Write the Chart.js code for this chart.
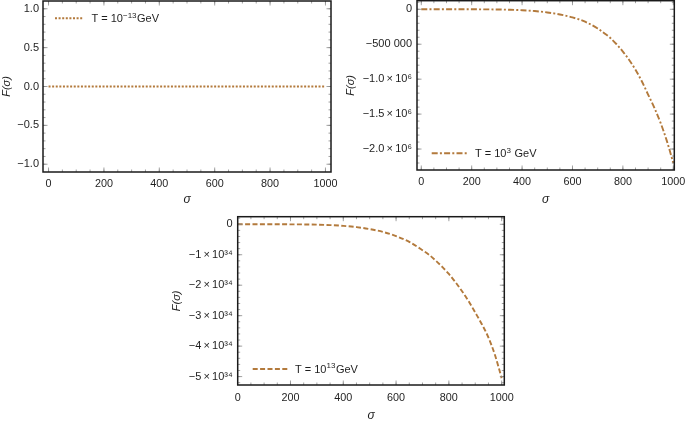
<!DOCTYPE html>
<html><head><meta charset="utf-8">
<script src="https://cdn.jsdelivr.net/npm/chart.js@4.4.1/dist/chart.umd.min.js"></script>
<style>
html,body{margin:0;padding:0;background:#fff;width:685px;height:422px;overflow:hidden;position:relative}
canvas{position:absolute}
</style></head><body>
<canvas id="c1" width="340" height="210" style="left:0;top:0"></canvas>
<canvas id="c2" width="345" height="215" style="left:340px;top:0"></canvas>
<canvas id="c3" width="350" height="217" style="left:170px;top:205px"></canvas>
<script>
// ---- data ----
const sigma = [0,50,100,150,200,250,300,350,400,450,500,550,600,650,700,725,750,775,800,825,850,875,900,925,950,975,1000];
const F_Tm13 = [0,0,0,0,0,0,0,0,0,0,0,0,0,0,0,0,0,0,0,0,0,0,0,0,0,0,0];
const F_T3 = [0,0,-2,-30,-250,-900,-2700,-6500,-13000,-25000,-45000,-74000,-116000,-178000,-275000,-340000,-410000,-500000,-605000,-725000,-865000,-1030000,-1220000,-1410000,-1630000,-1890000,-2200000];
const F_T13 = [0,0,-0.00005e34,-0.0004e34,-0.0016e34,-0.005e34,-0.012e34,-0.026e34,-0.052e34,-0.093e34,-0.158e34,-0.25e34,-0.39e34,-0.58e34,-0.85e34,-1.0e34,-1.19e34,-1.4e34,-1.63e34,-1.9e34,-2.2e34,-2.53e34,-2.9e34,-3.28e34,-3.72e34,-4.3e34,-5.05e34];

const xTicks = [0,200,400,600,800,1000];
const xTickLabels = ['0','200','400','600','800','1000'];
const yTicks1 = [1,0.5,0,-0.5,-1];
const yTickLabels1 = ['1.0','0.5','0.0','\u22120.5','\u22121.0'];
const yTicks2 = [0,-5e5,-1e6,-1.5e6,-2e6];
const yTickLabels2 = ['0','\u2212500 000','\u22121.0\u2009\u00D7\u200910\u2076','\u22121.5\u2009\u00D7\u200910\u2076','\u22122.0\u2009\u00D7\u200910\u2076'];
const yTicks3 = [0,-1e34,-2e34,-3e34,-4e34,-5e34];
const yTickLabels3 = ['0','\u22121\u2009\u00D7\u200910\u00B3\u2074','\u22122\u2009\u00D7\u200910\u00B3\u2074','\u22123\u2009\u00D7\u200910\u00B3\u2074','\u22124\u2009\u00D7\u200910\u00B3\u2074','\u22125\u2009\u00D7\u200910\u00B3\u2074'];
const xTitle = '\u03C3';
const yTitle = 'F(\u03C3)';
// legend labels: [text, isSuperscript]
const legendTm13 = [['T = 10',false],['\u221213',true],['GeV',false]];
const legendT3 = [['T = 10',false],['3',true],[' GeV',false]];
const legendT13 = [['T = 10',false],['13',true],['GeV',false]];

// ---- styling ----
const FONT = "'Liberation Sans', Arial, sans-serif";
const lineColor = 'rgb(179,122,60)';
const textColor = '#1e1e1e';

const frameTicks = {
  id: 'frameTicks',
  afterDatasetsDraw(chart, args, o) {
    const {ctx, chartArea: a, scales: {x, y}} = chart;
    ctx.save();
    ctx.strokeStyle = '#8a8a8a';
    ctx.lineWidth = 0.8;
    const xt = (v, len) => {
      const p = x.getPixelForValue(v);
      if (p < a.left + 0.5 || p > a.right - 0.5) return;
      ctx.beginPath();
      ctx.moveTo(p, a.bottom); ctx.lineTo(p, a.bottom - len);
      ctx.moveTo(p, a.top); ctx.lineTo(p, a.top + len);
      ctx.stroke();
    };
    const yt = (v, len) => {
      const p = y.getPixelForValue(v);
      if (p < a.top + 0.5 || p > a.bottom - 0.5) return;
      ctx.beginPath();
      ctx.moveTo(a.left, p); ctx.lineTo(a.left + len, p);
      ctx.moveTo(a.right, p); ctx.lineTo(a.right - len, p);
      ctx.stroke();
    };
    for (let v = Math.ceil(x.min / o.xMinor) * o.xMinor; v <= x.max; v += o.xMinor) xt(v, 2.5);
    for (let i = Math.ceil(y.min / o.yMinor); i * o.yMinor <= y.max; i++) yt(i * o.yMinor, 2.5);
    x.ticks.forEach(t => xt(t.value, 4.5));
    y.ticks.forEach(t => yt(t.value, 4.5));
    // frame
    ctx.strokeStyle = '#1a1a1a';
    ctx.lineWidth = 1.5;
    ctx.strokeRect(a.left, a.top, a.right - a.left, a.bottom - a.top);
    // legend
    const ds = chart.data.datasets[0];
    const ly = o.legFromBottom ? a.bottom - o.legY : a.top + o.legY;
    ctx.strokeStyle = ds.borderColor;
    ctx.lineWidth = ds.borderWidth;
    ctx.setLineDash(ds.borderDash || []);
    ctx.beginPath();
    ctx.moveTo(a.left + o.legX0, ly); ctx.lineTo(a.left + o.legX1, ly);
    ctx.stroke();
    ctx.setLineDash([]);
    let tx = a.left + o.legTX;
    ctx.fillStyle = textColor;
    ctx.textAlign = 'left';
    ctx.textBaseline = 'alphabetic';
    const base = ly + 3.9;
    o.legend.forEach(([t, sup]) => {
      ctx.font = (sup ? '8px ' : '11px ') + FONT;
      ctx.fillText(t, tx, sup ? base - 4.6 : base);
      tx += ctx.measureText(t).width + (sup ? 0.5 : 0);
    });
    ctx.restore();
  }
};

function makeChart(id, values, c) {
  return new Chart(document.getElementById(id), {
    type: 'line',
    data: { datasets: [{
      data: sigma.map((s, i) => ({x: s, y: values[i]})),
      borderColor: lineColor, borderWidth: 1.9, borderDash: c.dash,
      borderCapStyle: 'butt', pointRadius: 0, fill: false,
      cubicInterpolationMode: 'monotone'
    }]},
    options: {
      responsive: false, animation: false, devicePixelRatio: 1,
      layout: { padding: c.pad },
      plugins: {
        legend: {display: false}, tooltip: {enabled: false},
        frameTicks: c.frame
      },
      scales: {
        x: {
          type: 'linear', min: c.xmin, max: c.xmax,
          grid: {display: false, drawTicks: false}, border: {display: false},
          afterBuildTicks: s => { s.ticks = xTicks.map(v => ({value: v})); },
          afterFit: s => { s.height = c.xh; s.paddingLeft = 0; s.paddingRight = 0; },
          ticks: { padding: c.xpad, autoSkip: false, maxRotation: 0, color: textColor,
                   font: {family: FONT, size: 10.8},
                   callback: (v, i) => xTickLabels[i] },
          title: { display: true, text: xTitle, color: textColor,
                   font: {family: FONT, size: 12, style: 'italic', lineHeight: 1},
                   padding: {top: 0, bottom: c.xtpad} }
        },
        y: {
          type: 'linear', min: c.ymin, max: c.ymax,
          grid: {display: false, drawTicks: false}, border: {display: false},
          afterBuildTicks: s => { s.ticks = c.yTicks.map(v => ({value: v})); },
          afterFit: s => { s.width = c.yw; s.paddingTop = 0; s.paddingBottom = 0; },
          ticks: { padding: c.ypad, autoSkip: false, color: textColor,
                   font: {family: FONT, size: 11},
                   callback: (v, i) => c.yLabels[i] },
          title: { display: true, text: yTitle, color: textColor,
                   font: {family: FONT, size: 11, style: 'italic', lineHeight: 1},
                   padding: {top: c.ytpad, bottom: 0} }
        }
      }
    },
    plugins: [frameTicks]
  });
}

makeChart('c1', F_Tm13, {
  dash: [2, 1.6], pad: {left: 0, right: 9, top: 1, bottom: 0},
  xmin: -20, xmax: 1020, ymin: -1.1, ymax: 1.1,
  yTicks: yTicks1, yLabels: yTickLabels1,
  xh: 38, yw: 43, xpad: 6, ypad: 4, xtpad: 4, ytpad: 1.5,
  frame: {xMinor: 50, yMinor: 0.1, legend: legendTm13, legY: 17.3, legX0: 12, legX1: 40, legTX: 48.5, legFromBottom: false}
});
makeChart('c2', F_T3, {
  dash: [6, 2.2, 2, 2.2], pad: {left: 0, right: 10.7, top: 0.7, bottom: 0},
  xmin: -17, xmax: 1004, ymin: -2.30e6, ymax: 0.123e6,
  yTicks: yTicks2, yLabels: yTickLabels2,
  xh: 45, yw: 77, xpad: 6, ypad: 5, xtpad: 9, ytpad: 5.5,
  frame: {xMinor: 50, yMinor: 1e5, legend: legendT3, legY: 16.7, legX0: 14.7, legX1: 51.3, legTX: 58, legFromBottom: true}
});
makeChart('c3', F_T13, {
  dash: [5, 2.4], pad: {left: 0, right: 15.7, top: 11.7, bottom: 0},
  xmin: 0, xmax: 1010, ymin: -5.276e34, ymax: 0.249e34,
  yTicks: yTicks3, yLabels: yTickLabels3,
  xh: 37, yw: 67.7, xpad: 7, ypad: 5, xtpad: 0, ytpad: 1.5,
  frame: {xMinor: 50, yMinor: 0.2e34, legend: legendT13, legY: 16, legX0: 15, legX1: 51.6, legTX: 57.3, legFromBottom: true}
});
</script>
</body></html>
